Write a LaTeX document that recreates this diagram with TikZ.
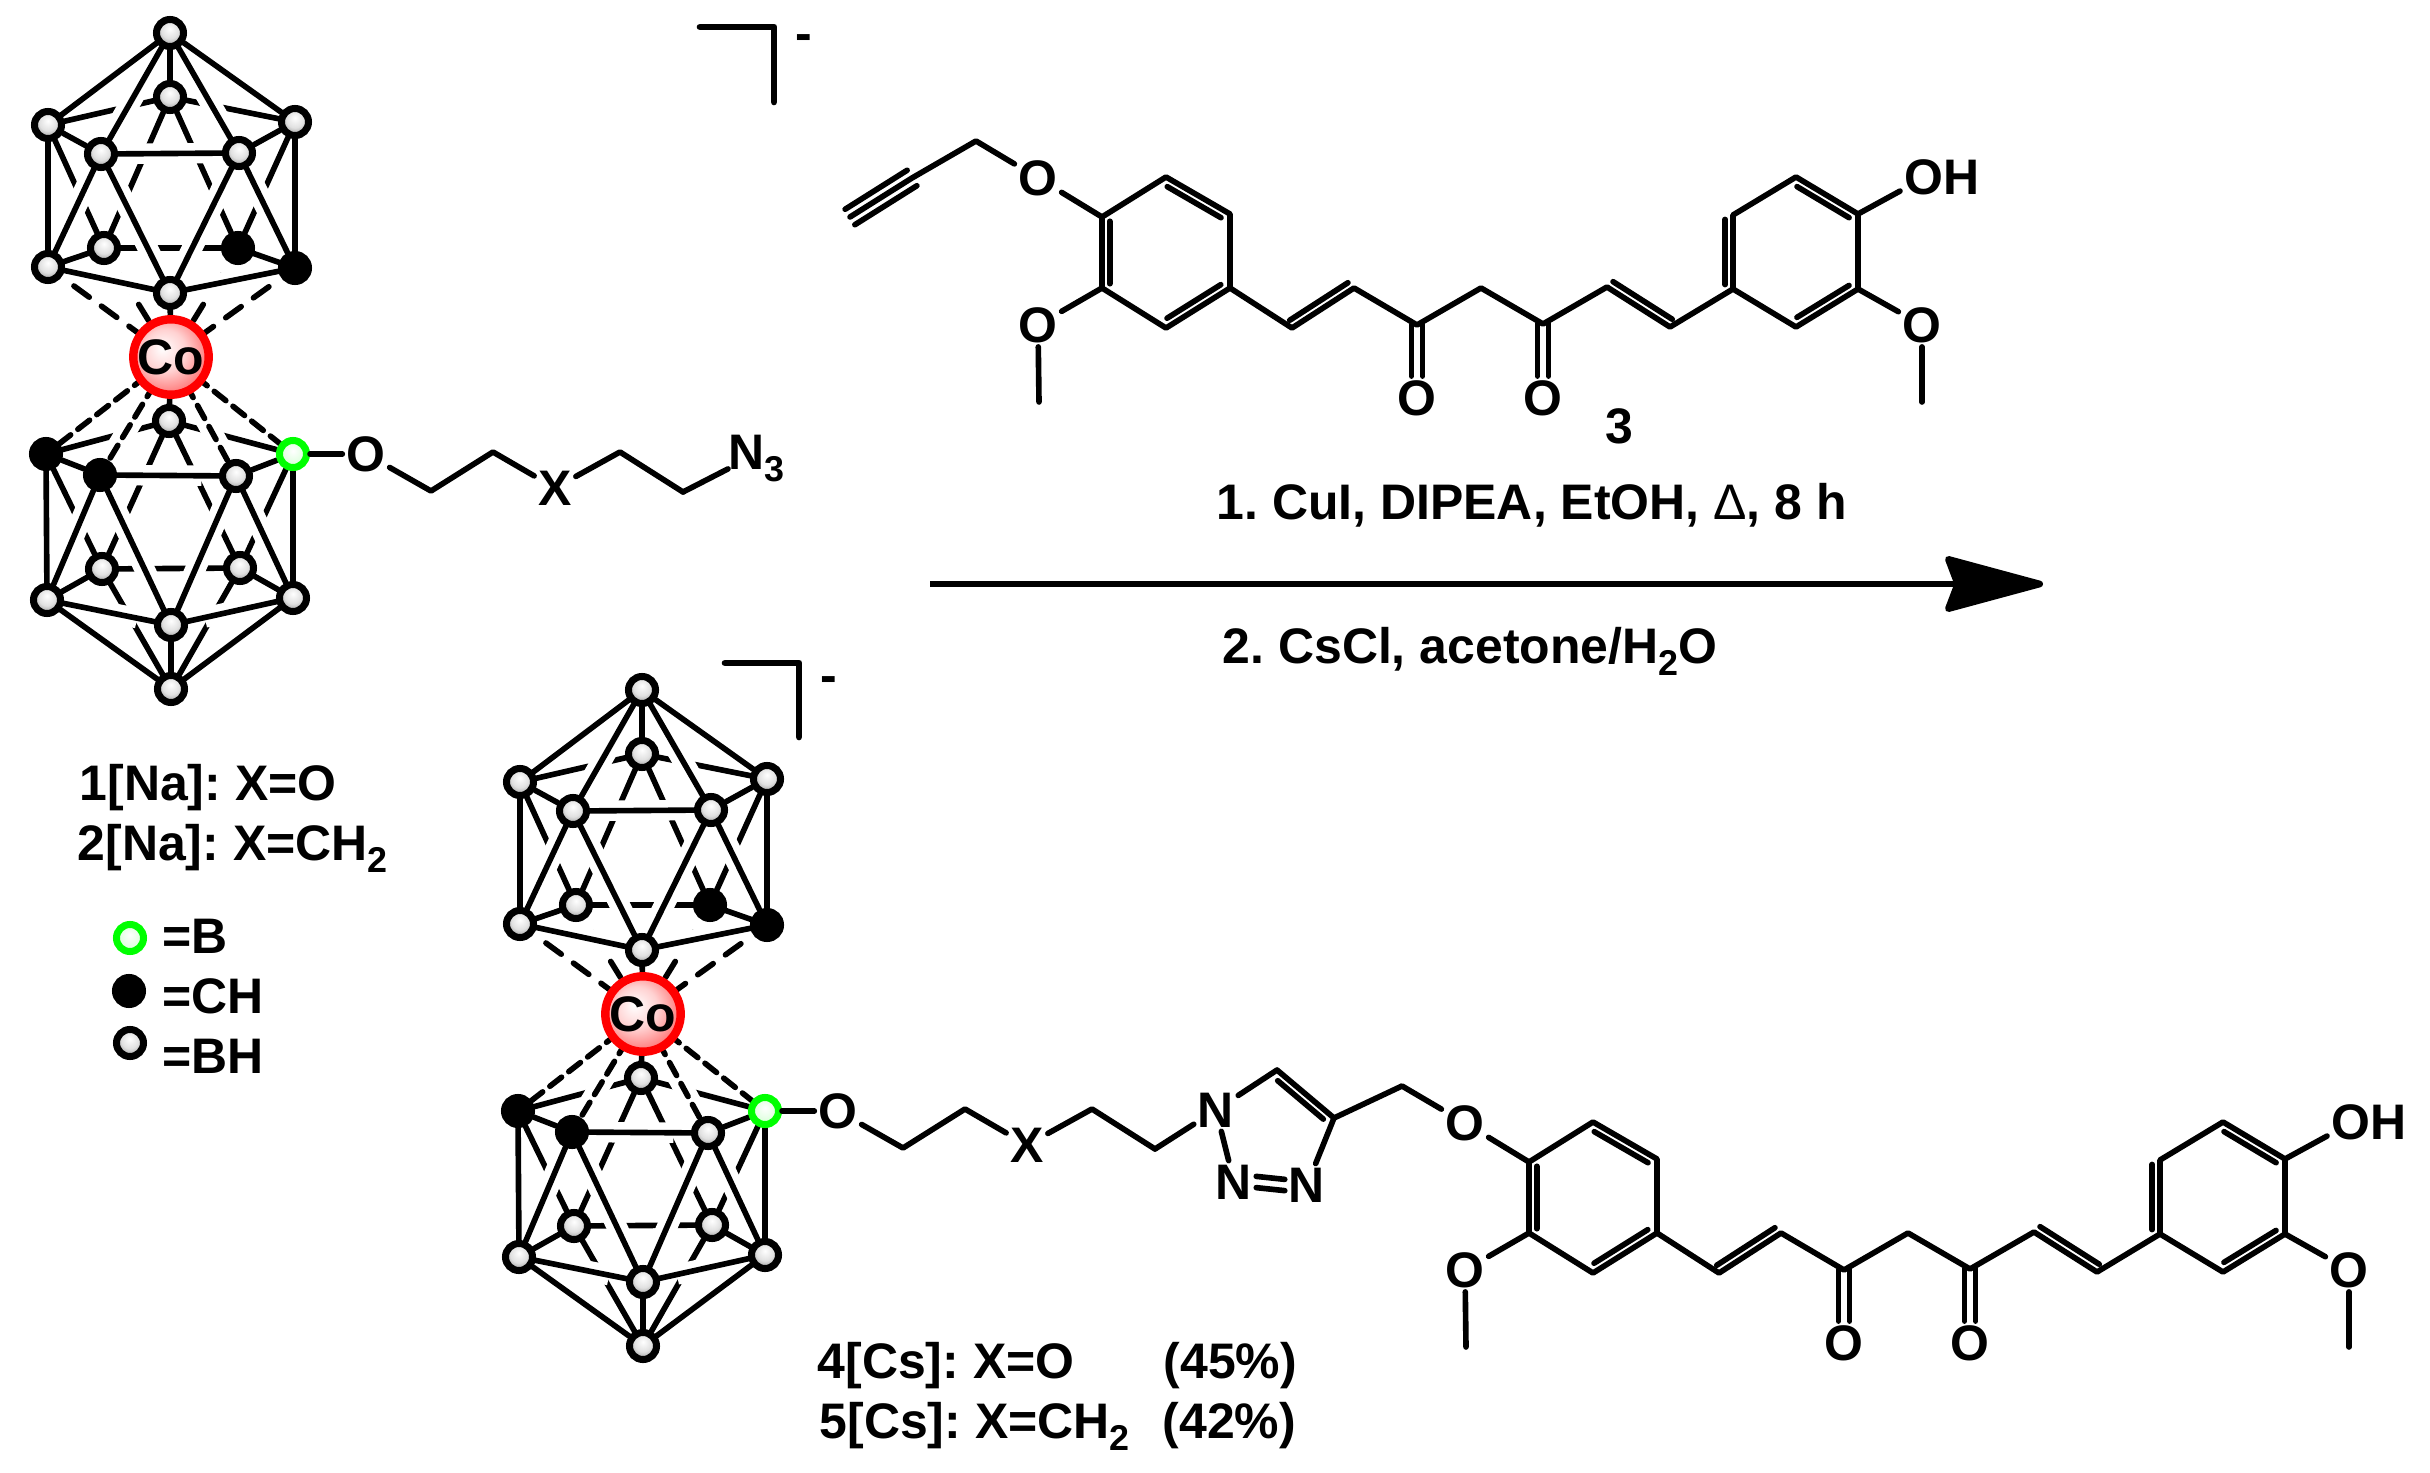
\documentclass[tikz,border=0pt]{standalone}
\usepackage{fontspec}
\setmainfont{Liberation Sans}
\usetikzlibrary{arrows.meta,backgrounds,calc}
\frenchspacing

\pgfdeclareradialshading{graybead}{\pgfqpoint{0bp}{8bp}}{color(0bp)=(white); color(16bp)=(white!88!black); color(30bp)=(white!55!black); color(50bp)=(white!25!black)}
\pgfdeclareradialshading{greenbead}{\pgfqpoint{0bp}{6bp}}{color(0bp)=(white); color(25bp)=(green!15!white); color(50bp)=(green!50!white)}
\pgfdeclareradialshading{redbead}{\pgfqpoint{-6bp}{6bp}}{color(0bp)=(white); color(14bp)=(red!18!white); color(30bp)=(red!60!white); color(50bp)=(red)}

\tikzset{
  bond/.style={line width=1.6pt,line cap=round,line join=round},
  halo/.style={white,line width=5.8pt,shorten <=5pt,shorten >=5pt},
  hashup/.style={bond,dash pattern=on 5.4pt off 4.3pt,dash phase=5.4pt},
  hashlow/.style={bond,dash pattern=on 4.2pt off 2.6pt,dash phase=3pt},
  chemlabel/.style={font=\fontsize{14.2}{17}\selectfont\bfseries,inner sep=1pt},
  baselabel/.style={chemlabel,anchor=base west,inner sep=0pt},
  bhatom/.style={circle,draw=black,line width=2pt,minimum size=2.7mm,inner sep=0pt,shading=graybead},
  chatom/.style={circle,fill=black,draw=black,line width=2pt,minimum size=2.7mm,inner sep=0pt},
  batom/.style={circle,draw=green,line width=2pt,minimum size=2.7mm,inner sep=0pt,shading=greenbead},
  coatom/.style={chemlabel,circle,draw=red,line width=2.4pt,minimum size=7.3mm,inner sep=0pt,shading=redbead},
}

\newcommand\lowidx[1]{\raisebox{-3.6pt}{\fontsize{10.2}{12}\selectfont #1}}
% line beside the bond a--b: #1 distance, #4 how far it is cut back, #5 side (90 or 270)
\newcommand\innerbond[5][2.2pt]{\draw[bond] ($(#2)!#4!(#3)!#1!#5:(#3)$) -- ($(#3)!#4!(#2)!-#1!#5:(#2)$);}

% the two cages around Co, with the linker up to the last CH2
\newcommand\cagepair[1]{
  % upper cage
  \node[bhatom] (#1top) at (170,33) {};
  \node[bhatom] (#1bt) at (170,97) {};
  \node[bhatom] (#1ul) at (48,125) {};
  \node[bhatom] (#1ur) at (295,122) {};
  \node[bhatom] (#1ml) at (101,154) {};
  \node[bhatom] (#1mr) at (239,153) {};
  \node[bhatom] (#1ll) at (48,267) {};
  \node[chatom] (#1lr) at (295,268) {};
  \node[bhatom] (#1bl) at (104,248) {};
  \node[chatom] (#1br) at (238,248) {};
  \node[bhatom] (#1bo) at (170,293) {};
  \node[coatom] (#1co) at (171,357) {Co};
  % lower cage
  \node[bhatom] (#1Bt) at (169,421) {};
  \node[chatom] (#1Ul) at (46,454) {};
  \node[batom] (#1Ur) at (293,454) {};
  \node[chatom] (#1Ml) at (100,475) {};
  \node[bhatom] (#1Mr) at (236,476) {};
  \node[bhatom] (#1Ll) at (47,600) {};
  \node[bhatom] (#1Lr) at (293,598) {};
  \node[bhatom] (#1Bl) at (102,569) {};
  \node[bhatom] (#1Br) at (240,568) {};
  \node[bhatom] (#1Bo) at (171,625) {};
  \node[bhatom] (#1Zz) at (171,689) {};
  % linker
  \node[chemlabel] (#1ox) at (366,454) {O};
  \node[chemlabel] (#1xx) at (555,488) {X};
  \coordinate (#1la) at (431,491);
  \coordinate (#1lb) at (493,452);
  \coordinate (#1lc) at (620,452);
  \coordinate (#1ld) at (683,492);
  \draw[bond] (#1Ur) -- (#1ox);
  \draw[bond] (#1ox) -- (#1la) -- (#1lb) -- (#1xx);
  \draw[bond] (#1xx) -- (#1lc) -- (#1ld);
  \begin{scope}[on background layer]
    % bonds at the back
    \draw[hashup] (#1ll) -- (#1co);
    \draw[hashup] (#1lr) -- (#1co);
    \draw[hashup] (#1bl) -- (#1co);
    \draw[hashup] (#1br) -- (#1co);
    \draw[bond] (#1bt) -- (#1top);
    \draw[bond] (#1bt) -- (#1ul);
    \draw[bond] (#1bt) -- (#1ur);
    \draw[bond] (#1bt) -- (#1bl);
    \draw[bond] (#1bt) -- (#1br);
    \draw[bond] (#1ul) -- (#1bl);
    \draw[bond] (#1ur) -- (#1br);
    \draw[bond] (#1bl) -- (#1br);
    \draw[bond] (#1bl) -- (#1ll);
    \draw[bond] (#1br) -- (#1lr);
    \draw[bond] (#1Bt) -- (#1Ul);
    \draw[bond] (#1Bt) -- (#1Ur);
    \draw[bond] (#1Bt) -- (#1Bl);
    \draw[bond] (#1Bt) -- (#1Br);
    \draw[bond] (#1Ul) -- (#1Bl);
    \draw[bond] (#1Ur) -- (#1Br);
    \draw[bond] (#1Bl) -- (#1Br);
    \draw[bond] (#1Bl) -- (#1Ll);
    \draw[bond] (#1Br) -- (#1Lr);
    \draw[bond] (#1Bl) -- (#1Zz);
    \draw[bond] (#1Br) -- (#1Zz);
    % white gaps where the front bonds pass
    \draw[halo] (#1top) -- (#1ml);
    \draw[halo] (#1top) -- (#1mr);
    \draw[halo] (#1ml) -- (#1mr);
    \draw[halo] (#1ml) -- (#1ll);
    \draw[halo] (#1mr) -- (#1lr);
    \draw[halo] (#1ml) -- (#1bo);
    \draw[halo] (#1mr) -- (#1bo);
    \draw[halo] (#1ll) -- (#1bo);
    \draw[halo] (#1lr) -- (#1bo);
    \draw[halo] (#1co) -- (#1Ml);
    \draw[halo] (#1co) -- (#1Mr);
    \draw[halo] (#1Ml) -- (#1Mr);
    \draw[halo] (#1Ml) -- (#1Ll);
    \draw[halo] (#1Mr) -- (#1Lr);
    \draw[halo] (#1Ml) -- (#1Bo);
    \draw[halo] (#1Mr) -- (#1Bo);
    \draw[halo] (#1Ll) -- (#1Bo);
    \draw[halo] (#1Lr) -- (#1Bo);
    % bonds at the front
    \draw[hashlow] (#1co) -- (#1Ul);
    \draw[hashlow] (#1co) -- (#1Ur);
    \draw[hashlow] (#1co) -- (#1Ml);
    \draw[hashlow] (#1co) -- (#1Mr);
    \draw[bond] (#1co) -- (#1bo);
    \draw[bond] (#1co) -- (#1Bt);
    \draw[bond] (#1top) -- (#1ul);
    \draw[bond] (#1top) -- (#1ur);
    \draw[bond] (#1top) -- (#1ml);
    \draw[bond] (#1top) -- (#1mr);
    \draw[bond] (#1ul) -- (#1ml);
    \draw[bond] (#1ur) -- (#1mr);
    \draw[bond] (#1ml) -- (#1mr);
    \draw[bond] (#1ul) -- (#1ll);
    \draw[bond] (#1ur) -- (#1lr);
    \draw[bond] (#1ml) -- (#1ll);
    \draw[bond] (#1mr) -- (#1lr);
    \draw[bond] (#1ml) -- (#1bo);
    \draw[bond] (#1mr) -- (#1bo);
    \draw[bond] (#1ll) -- (#1bo);
    \draw[bond] (#1lr) -- (#1bo);
    \draw[bond] (#1Ul) -- (#1Ml);
    \draw[bond] (#1Ur) -- (#1Mr);
    \draw[bond] (#1Ml) -- (#1Mr);
    \draw[bond] (#1Ul) -- (#1Ll);
    \draw[bond] (#1Ur) -- (#1Lr);
    \draw[bond] (#1Ml) -- (#1Ll);
    \draw[bond] (#1Mr) -- (#1Lr);
    \draw[bond] (#1Ml) -- (#1Bo);
    \draw[bond] (#1Mr) -- (#1Bo);
    \draw[bond] (#1Ll) -- (#1Bo);
    \draw[bond] (#1Lr) -- (#1Bo);
    \draw[bond] (#1Ll) -- (#1Zz);
    \draw[bond] (#1Lr) -- (#1Zz);
    \draw[bond] (#1Bo) -- (#1Zz);
  \end{scope}
}

% the curcumin part, from the ether O to the OH
\newcommand\curcumin[1]{
  \node[chemlabel] (#1oa) at (1038,178) {O};
  \node[chemlabel] (#1ob) at (1038,325) {O};
  \node[chemlabel] (#1oc) at (1417,398) {O};
  \node[chemlabel] (#1od) at (1543,398) {O};
  \node[chemlabel] (#1oe) at (1922,325) {O};
  \node[chemlabel,anchor=west] (#1oh) at (1900,177) {OH};
  \coordinate (#1me) at (1039,402);
  \coordinate (#1mf) at (1922,402);
  \coordinate (#1ra) at (1102,217);
  \coordinate (#1rb) at (1166,177);
  \coordinate (#1rc) at (1230,214);
  \coordinate (#1rd) at (1230,288);
  \coordinate (#1re) at (1166,328);
  \coordinate (#1rf) at (1102,288);
  \coordinate (#1ca) at (1292,328);
  \coordinate (#1cb) at (1354,288);
  \coordinate (#1cc) at (1417,325);
  \coordinate (#1cd) at (1481,288);
  \coordinate (#1ce) at (1543,324);
  \coordinate (#1cf) at (1607,287);
  \coordinate (#1cg) at (1670,327);
  \coordinate (#1sa) at (1733,289);
  \coordinate (#1sb) at (1733,215);
  \coordinate (#1sc) at (1796,177);
  \coordinate (#1sd) at (1858,214);
  \coordinate (#1se) at (1858,289);
  \coordinate (#1sf) at (1796,327);
  \draw[bond] (#1ra) -- (#1rb) -- (#1rc) -- (#1rd) -- (#1re) -- (#1rf) -- cycle;
  \draw[bond] (#1sa) -- (#1sb) -- (#1sc) -- (#1sd) -- (#1se) -- (#1sf) -- cycle;
  \draw[bond] (#1oa) -- (#1ra);
  \draw[bond] (#1ob) -- (#1rf);
  \draw[bond] (#1ob) -- (#1me);
  \draw[bond] (#1rd) -- (#1ca) -- (#1cb) -- (#1cc) -- (#1cd) -- (#1ce) -- (#1cf) -- (#1cg) -- (#1sa);
  \draw[bond] (#1sd) -- ([yshift=-4pt]#1oh.west);
  \draw[bond] (#1se) -- (#1oe);
  \draw[bond] (#1oe) -- (#1mf);
  \draw[bond] ([xshift=-1.6pt]#1cc) -- ([xshift=-1.6pt]#1oc.north);
  \draw[bond] ([xshift=1.6pt]#1cc) -- ([xshift=1.6pt]#1oc.north);
  \draw[bond] ([xshift=-1.6pt]#1ce) -- ([xshift=-1.6pt]#1od.north);
  \draw[bond] ([xshift=1.6pt]#1ce) -- ([xshift=1.6pt]#1od.north);
  \innerbond{#1ra}{#1rf}{.06}{90}
  \innerbond{#1rb}{#1rc}{.08}{270}
  \innerbond{#1re}{#1rd}{.08}{90}
  \innerbond{#1ca}{#1cb}{.03}{90}
  \innerbond{#1cf}{#1cg}{.03}{90}
  \innerbond{#1sa}{#1sb}{.06}{90}
  \innerbond{#1sc}{#1sd}{.08}{270}
  \innerbond{#1sf}{#1se}{.08}{90}
}

\begin{document}
\begin{tikzpicture}[x=0.01cm,y=-0.01cm]
  \useasboundingbox (0,0) rectangle (2430,1473);

  % starting cage
  \cagepair{a}
  \node[baselabel] (nthree) at (728,469) {N\lowidx{3}};
  \draw[bond] (ald) -- ([yshift=-3pt]nthree.west);
  \coordinate (aka) at (700,27);
  \coordinate (akb) at (774,27);
  \coordinate (akc) at (774,102);
  \draw[bond,line width=1.9pt] (aka) -- (akb) -- (akc);
  \node[baselabel] (achg) at (795,51) {-};

  % legend and names
  \node[baselabel] (nameone) at (79,800) {1[Na]: X=O};
  \node[baselabel] (nametwo) at (77,860) {2[Na]: X=CH\lowidx{2}};
  \node[batom] (legb) at (130,938) {};
  \node[chatom] (legch) at (129,991) {};
  \node[bhatom] (legbh) at (130,1043) {};
  \node[baselabel] (textb) at (162,953) {=B};
  \node[baselabel] (textch) at (162,1013) {=CH};
  \node[baselabel] (textbh) at (162,1073) {=BH};

  % the alkyne 3
  \curcumin{c}
  \coordinate (ya) at (850,217);
  \coordinate (yb) at (912,178);
  \coordinate (yc) at (976,141);
  \draw[bond] (ya) -- (yb) -- (yc) -- (coa);
  \innerbond[2.6pt]{ya}{yb}{0}{90}
  \innerbond[2.6pt]{ya}{yb}{0}{270}
  \node[chemlabel] (numthree) at (1619,426) {3};

  % the reaction arrow
  \coordinate (arrowstart) at (930,584);
  \coordinate (arrowend) at (2043,584);
  \draw[line width=1.9pt,-{Stealth[length=31pt,width=16.5pt,inset=3pt,round]}] (arrowstart) -- (arrowend);
  \node[baselabel] (stepone) at (1216,520) {1. CuI, DIPEA, EtOH, {\mdseries Δ}, 8 h};
  \node[baselabel] (steptwo) at (1222,663) {2. CsCl, acetone/H\lowidx{2}O};

  % the product
  \begin{scope}[shift={(472,657)}]
    \cagepair{b}
  \end{scope}
  \coordinate (pka) at (725,663);
  \coordinate (pkb) at (799,663);
  \coordinate (pkc) at (799,737);
  \draw[bond,line width=1.9pt] (pka) -- (pkb) -- (pkc);
  \node[baselabel] (pchg) at (820,692) {-};
  \begin{scope}[shift={(427,945)}]
    \curcumin{p}
  \end{scope}
  \node[chemlabel] (none) at (1216,1110) {N};
  \node[chemlabel] (ntwo) at (1234,1182) {N};
  \node[chemlabel] (nthr) at (1307,1185) {N};
  \coordinate (tca) at (1277,1070);
  \coordinate (tcb) at (1334,1118);
  \coordinate (tcc) at (1402,1086);
  \draw[bond] (bld) -- (none);
  \draw[bond] (none) -- (tca) -- (tcb) -- (nthr);
  \draw[bond] (none) -- (ntwo);
  \draw[bond] ([yshift=1.6pt]ntwo.east) -- ([yshift=1.6pt]nthr.west);
  \draw[bond] ([yshift=-1.6pt]ntwo.east) -- ([yshift=-1.6pt]nthr.west);
  \draw[bond] (tcb) -- (tcc) -- (poa);
  \innerbond{tca}{tcb}{.1}{270}
  \node[baselabel] (namefour) at (817,1378) {4[Cs]: X=O};
  \node[baselabel] (namefive) at (819,1438) {5[Cs]: X=CH\lowidx{2}};
  \node[baselabel] (yieldfour) at (1163,1378) {(45\%)};
  \node[baselabel] (yieldfive) at (1162,1438) {(42\%)};
\end{tikzpicture}
\end{document}
